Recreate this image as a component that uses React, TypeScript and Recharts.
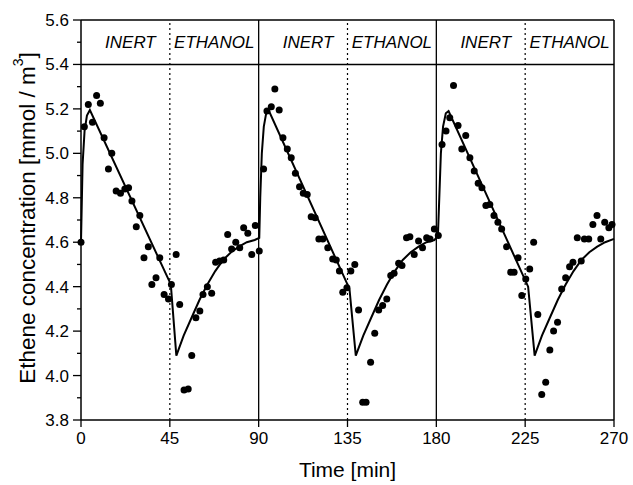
import { ComposedChart, XAxis, YAxis, Line, Scatter, ReferenceLine, ReferenceArea } from "recharts";

// measured ethene concentration (dots)
const measTime = [
  0, 1.7, 3.7, 5.8, 7.9, 9.8, 11.7, 13.9, 15.6, 17.8, 20.0, 22.2, 24.1, 25.8, 28.0, 29.8, 31.9, 34.1, 35.9, 38.0,
  39.9, 42.1, 44.3, 45.8, 48.2, 50.0, 52.2, 54.3, 56.1, 58.2, 60.2, 61.8, 64.0, 66.2, 68.2, 70.2, 72.3, 74.3, 76.3,
  78.4, 80.4, 82.4, 84.5, 86.5, 88.3, 90.3,
  92.5, 94.2, 96.4, 98.2, 100.4, 102.3, 104.5, 106.5, 108.6, 110.7, 112.6, 114.6, 116.6, 118.6, 120.5, 122.5, 125.0,
  127.5, 129.3, 130.9, 132.6, 134.7, 136.7, 138.7, 140.6, 142.7, 144.4, 146.7, 148.8, 150.8, 152.8, 154.9, 156.9,
  158.6, 160.9, 162.6, 164.9, 166.6, 168.8, 171.0, 173.0, 175.1, 176.8, 179.0, 181.0,
  182.9, 184.9, 186.8, 188.7, 191.0, 192.9, 194.9, 197.0, 199.2, 201.2, 203.1, 205.1, 207.1, 209.2, 211.2, 213.1,
  215.6, 217.7, 219.4, 221.4, 223.3, 225.3, 227.3, 229.3, 231.4, 233.4, 235.4, 237.5, 239.4, 241.4, 243.5, 245.5,
  247.5, 249.2, 251.4, 253.4, 255.0, 257.2, 259.3, 261.4, 263.3, 265.3, 267.4, 269.0,
];
const measConc = [
  4.6, 5.12, 5.22, 5.14, 5.26, 5.225, 5.07, 4.93, 5.0, 4.83, 4.82, 4.84, 4.845, 4.785, 4.67, 4.72, 4.53, 4.58, 4.41, 4.44,
  4.53, 4.365, 4.345, 4.41, 4.545, 4.32, 3.935, 3.94, 4.09, 4.26, 4.29, 4.365, 4.4, 4.37, 4.51, 4.515, 4.52, 4.635, 4.57,
  4.6, 4.575, 4.665, 4.64, 4.545, 4.675, 4.56,
  4.93, 5.19, 5.21, 5.29, 5.195, 5.07, 5.02, 4.98, 4.91, 4.85, 4.82, 4.815, 4.715, 4.71, 4.615, 4.615, 4.575,
  4.525, 4.52, 4.47, 4.375, 4.395, 4.47, 4.5, 4.295, 3.88, 3.88, 4.06, 4.19, 4.295, 4.315, 4.345, 4.45,
  4.46, 4.505, 4.495, 4.62, 4.625, 4.545, 4.605, 4.575, 4.62, 4.615, 4.66, 4.63,
  5.04, 5.1, 5.16, 5.305, 5.125, 5.02, 5.08, 4.98, 4.92, 4.865, 4.845, 4.765, 4.77, 4.72, 4.69, 4.66,
  4.58, 4.465, 4.465, 4.53, 4.36, 4.435, 4.48, 4.6, 4.275, 3.915, 3.97, 4.115, 4.2, 4.24, 4.39, 4.44,
  4.49, 4.51, 4.62, 4.515, 4.615, 4.615, 4.68, 4.72, 4.615, 4.69, 4.665, 4.68,
];

// model curve (solid line)
const modelTime = [
  0, 0.8, 1.8, 3, 4.5, 45.5, 48.3, 52, 56, 60, 64, 68, 72, 76, 80, 84, 88, 90.3,
  90.8, 91.6, 92.6, 93.8, 95, 136, 139.2, 143, 147, 151, 155, 159, 163, 167, 171, 175, 179, 180.8,
  181.5, 182.3, 183.4, 184.8, 186.2, 226.5, 229.8, 233.5, 237.5, 241.5, 245.5, 249.5, 253.5, 257.5, 261.5, 265.5, 270,
];
const modelConc = [
  4.6, 4.95, 5.1, 5.17, 5.195, 4.41, 4.09, 4.18, 4.26, 4.34, 4.41, 4.47, 4.52, 4.555, 4.58, 4.6, 4.61, 4.62,
  4.8, 5.0, 5.12, 5.18, 5.195, 4.39, 4.09, 4.18, 4.26, 4.34, 4.41, 4.47, 4.52, 4.555, 4.58, 4.6, 4.61, 4.63,
  4.8, 5.0, 5.12, 5.18, 5.19, 4.4, 4.09, 4.18, 4.26, 4.34, 4.41, 4.47, 4.52, 4.555, 4.58, 4.6, 4.615,
];

const xTicks = [0, 45, 90, 135, 180, 225, 270];
const yTicks = [3.8, 3.9, 4.0, 4.1, 4.2, 4.3, 4.4, 4.5, 4.6, 4.7, 4.8, 4.9, 5.0, 5.1, 5.2, 5.3, 5.4, 5.5, 5.6];
const phaseStart = [0, 45, 90, 135, 180, 225];
const phaseEnd = [45, 90, 135, 180, 225, 270];
const phaseName = ["INERT", "ETHANOL", "INERT", "ETHANOL", "INERT", "ETHANOL"];
const cycleLines = [90, 180];
const ethanolLines = [45, 135, 225];

const measured = measTime.map((t, i) => ({ t, y: measConc[i] }));
const model = modelTime.map((t, i) => ({ t, y: modelConc[i] }));

const FONT = "'Liberation Sans', Arial, sans-serif";

const YTick = (props: any) => {
  const { x, y, payload } = props;
  const v = payload.value;
  const major = Math.round(v * 10) % 2 === 0;
  return (
    <g>
      <line x1={x - (major ? 8 : 4)} x2={x} y1={y} y2={y} stroke="#000" strokeWidth={1.3} />
      {major && (
        <text x={x - 12} y={y} dy={6} textAnchor="end" fontSize={17} fontFamily={FONT} fill="#000">
          {v.toFixed(1)}
        </text>
      )}
    </g>
  );
};

const XTick = (props: any) => {
  const { x, y, payload } = props;
  return (
    <g>
      <line x1={x} x2={x} y1={y} y2={y + 7} stroke="#000" strokeWidth={1.3} />
      <text x={x} y={y + 24} textAnchor="middle" fontSize={17} fontFamily={FONT} fill="#000">
        {payload.value}
      </text>
    </g>
  );
};

const YTitle = (props: any) => {
  const { viewBox } = props;
  const cx = 27;
  const cy = viewBox.y + viewBox.height / 2 - 2;
  return (
    <text
      x={cx}
      y={cy}
      transform={`rotate(-90 ${cx} ${cy})`}
      textAnchor="middle"
      dominantBaseline="central"
      fontSize={22.5}
      fontFamily={FONT}
      fill="#000"
    >
      Ethene concentration [mmol / m
      <tspan dy={-9} fontSize={14}>3</tspan>
      <tspan dy={9}>]</tspan>
    </text>
  );
};

const PhaseLabel = (props: any) => {
  const { viewBox, value, shift } = props;
  return (
    <text
      x={viewBox.x + viewBox.width / 2 + shift}
      y={viewBox.y + viewBox.height / 2}
      dy={6}
      textAnchor="middle"
      fontSize={17}
      fontStyle="italic"
      fontFamily={FONT}
      fill="#000"
    >
      {value}
    </text>
  );
};

const Dot = (props: any) => <circle cx={props.cx} cy={props.cy} r={3.5} fill="#000" />;

export default function App() {
  return (
    <div style={{ position: "absolute", left: 0, top: 0, background: "#fff" }}>
      <ComposedChart width={633} height={485} margin={{ top: 20, right: 19, bottom: 0, left: 0 }}>
        <XAxis
          dataKey="t"
          type="number"
          domain={[0, 270]}
          ticks={xTicks}
          interval={0}
          height={65}
          tickSize={0}
          tickMargin={0}
          tickLine={false}
          tick={<XTick />}
          axisLine={{ stroke: "#000", strokeWidth: 1.5 }}
          label={{ value: "Time [min]", position: "insideBottom", offset: 8, fontSize: 21, fontFamily: FONT, fill: "#000" }}
        />
        <YAxis
          type="number"
          domain={[3.8, 5.6]}
          ticks={yTicks}
          interval={0}
          width={81}
          tickSize={0}
          tickMargin={0}
          tickLine={false}
          tick={<YTick />}
          axisLine={{ stroke: "#000", strokeWidth: 1.5 }}
          label={<YTitle />}
        />
        {phaseStart.map((s, i) => (
          <ReferenceArea
            key={"p" + i}
            x1={s}
            x2={phaseEnd[i]}
            y1={5.4}
            y2={5.6}
            fill="none"
            stroke="none"
            label={<PhaseLabel value={phaseName[i]} shift={phaseName[i] === "INERT" ? 5 : 0} />}
          />
        ))}
        <ReferenceLine y={5.4} stroke="#000" strokeWidth={1.5} />
        <ReferenceLine y={5.6} stroke="#000" strokeWidth={1.5} />
        <ReferenceLine x={270} stroke="#000" strokeWidth={1.5} />
        {cycleLines.map((x) => (
          <ReferenceLine key={"c" + x} x={x} stroke="#000" strokeWidth={1.3} />
        ))}
        {ethanolLines.map((x) => (
          <ReferenceLine key={"e" + x} x={x} stroke="#000" strokeWidth={1.2} strokeDasharray="2 3" />
        ))}
        <Line
          data={model}
          dataKey="y"
          type="linear"
          stroke="#000"
          strokeWidth={2}
          dot={false}
          isAnimationActive={false}
        />
        <Scatter data={measured} dataKey="y" shape={<Dot />} isAnimationActive={false} />
      </ComposedChart>
    </div>
  );
}
